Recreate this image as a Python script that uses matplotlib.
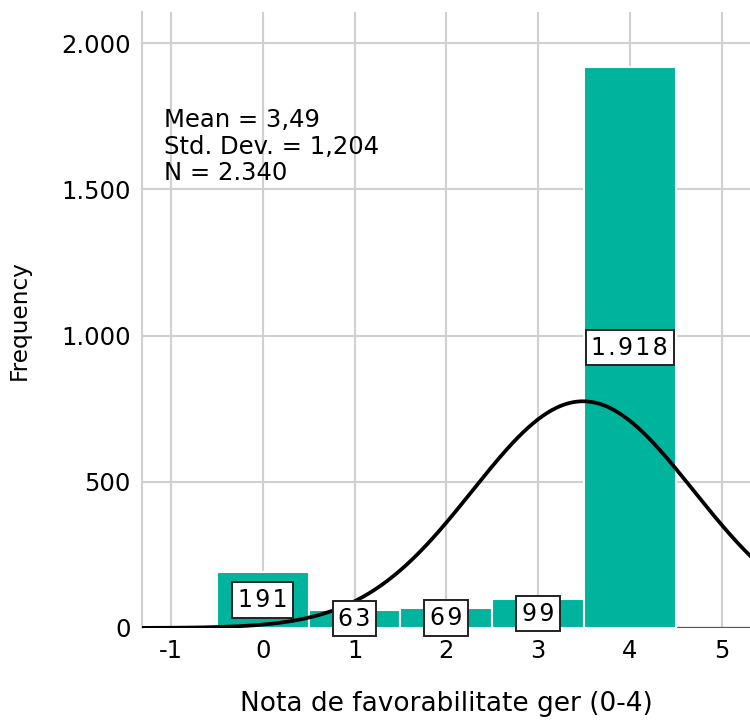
import matplotlib.pyplot as plt
import numpy as np

# Histogram of the 0-4 rating with a fitted normal curve
scores = [0, 1, 2, 3, 4]
counts = [191, 63, 69, 99, 1918]
count_labels = ["1\u200a9\u200a1", "6\u200a3", "6\u200a9", "9\u200a9", "1\u200a.\u200a9\u200a1\u200a8"]
y_ticks = [0, 500, 1000, 1500, 2000]
y_tick_labels = ["0", "500", "1.000", "1.500", "2.000"]
x_ticks = [-1, 0, 1, 2, 3, 4, 5]
x_tick_labels = ["-1", "0", "1", "2", "3", "4", "5"]

mean, std, n = 3.49, 1.204, 2340
stats_text = "Mean = 3,49\nStd. Dev. = 1,204\nN = 2.340"
bar_color = "#00b39d"

plt.rcParams["font.family"] = ["DejaVu Sans"]

fig = plt.figure(figsize=(7.5, 7.21), dpi=100)
ax = fig.add_axes([0.189, 0.129, 0.811, 0.854])

ax.axhline(0, color="#555555", lw=1.6, zorder=1)
ax.bar(scores, counts, width=1.0, color=bar_color, edgecolor="white",
       linewidth=1.5, zorder=2)

for x, c, lab in zip(scores, counts, count_labels):
    ax.text(x, c / 2, lab, ha="center", va="center", fontsize=17, zorder=5,
            bbox=dict(boxstyle="square,pad=0.24", fc="white", ec="#222222", lw=1.4))

xs = np.linspace(-1.4, 5.4, 400)
pdf = n * np.exp(-0.5 * ((xs - mean) / std) ** 2) / (std * np.sqrt(2 * np.pi))
ax.plot(xs, pdf, color="black", lw=2.7, zorder=4)

ax.text(0.036, 0.845, stats_text, transform=ax.transAxes, ha="left", va="top",
        fontsize=17.5, linespacing=1.15, zorder=6)

ax.set_xlim(-1.32, 5.31)
ax.set_ylim(0, 2106)
ax.set_xticks(x_ticks)
ax.set_xticklabels(x_tick_labels)
ax.set_yticks(y_ticks)
ax.set_yticklabels(y_tick_labels)
ax.tick_params(length=0, labelsize=17.5, pad=8)
ax.grid(True, color="#d0d0d0", lw=1.5, zorder=0)
ax.set_axisbelow(True)
for side in ["top", "right", "bottom"]:
    ax.spines[side].set_visible(False)
ax.spines["left"].set_color("#d0d0d0")
ax.spines["left"].set_linewidth(1.5)

ax.set_xlabel("Nota de favorabilitate ger (0-4)", fontsize=19, labelpad=20)
ax.set_ylabel("Frequency", fontsize=16.7, labelpad=22)

fig.savefig("out.png", dpi=100)
